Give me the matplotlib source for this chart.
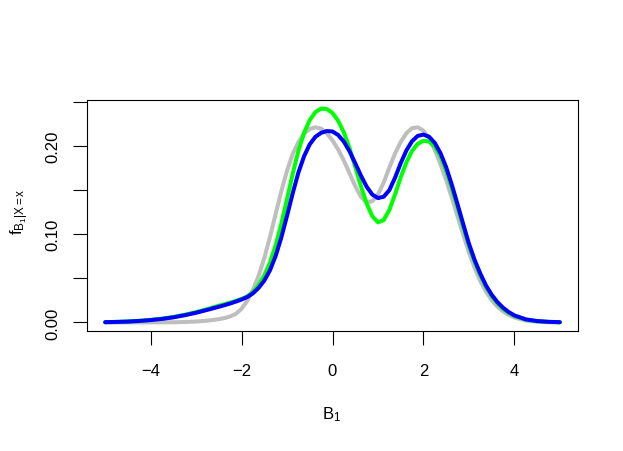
import numpy as np
import matplotlib
matplotlib.use('Agg')
import matplotlib.pyplot as plt

plt.rcParams['font.family'] = ['Liberation Sans', 'DejaVu Sans']
plt.rcParams['mathtext.fontset'] = 'custom'
plt.rcParams['mathtext.rm'] = 'Liberation Sans'
plt.rcParams['mathtext.it'] = 'Liberation Sans'
plt.rcParams['mathtext.bf'] = 'Liberation Sans:bold'

# Values (finer steps where the curves bend).
b1 = [-5.0, -4.75, -4.5, -4.25, -4.0, -3.75, -3.5, -3.25, -3.0, -2.75, -2.5,
      -2.375, -2.25, -2.125, -2.0, -1.875, -1.75, -1.625, -1.5, -1.375, -1.25,
      -1.125, -1.0, -0.875, -0.75, -0.625, -0.5, -0.375, -0.25, -0.125, 0.0,
      0.125, 0.25, 0.375, 0.5, 0.625, 0.75, 0.875, 1.0, 1.125, 1.25,
      1.375, 1.5, 1.625, 1.75, 1.875, 2.0, 2.125, 2.25, 2.375, 2.5,
      2.625, 2.75, 2.875, 3.0, 3.125, 3.25, 3.375, 3.5, 3.625, 3.75,
      3.875, 4.0, 4.25, 4.5, 4.75, 5.0]

# grey: reference density
dens_true = [0.0, 0.0, 0.0, 0.0, 0.0001, 0.0001, 0.0002, 0.0005, 0.001, 0.002, 0.0037,
             0.005, 0.0068, 0.0098, 0.0155, 0.0245, 0.037, 0.053, 0.073, 0.097, 0.123,
             0.149, 0.172, 0.191, 0.2045, 0.214, 0.2195, 0.2212, 0.2198, 0.2145, 0.2065,
             0.196, 0.1835, 0.169, 0.1545, 0.1425, 0.136, 0.1375, 0.145, 0.1585, 0.1755,
             0.1915, 0.2045, 0.2145, 0.2203, 0.2212, 0.2175, 0.2085, 0.1955, 0.1795, 0.1615,
             0.1415, 0.1205, 0.0995, 0.0795, 0.062, 0.047, 0.035, 0.0255, 0.018, 0.0125,
             0.0085, 0.0056, 0.0022, 0.0008, 0.0003, 0.0001]

# green estimate
dens_green = [0.0003, 0.0006, 0.0011, 0.0018, 0.0029, 0.0043, 0.0062, 0.0087, 0.0117, 0.0152, 0.019,
              0.0207, 0.0225, 0.0245, 0.0267, 0.0295, 0.0345, 0.0425, 0.0535, 0.068, 0.0875,
              0.112, 0.14, 0.1685, 0.1945, 0.215, 0.2295, 0.2385, 0.2425, 0.242, 0.2375,
              0.2285, 0.2155, 0.1975, 0.1765, 0.1545, 0.135, 0.1205, 0.1135, 0.116, 0.1275,
              0.145, 0.1645, 0.1815, 0.1945, 0.2025, 0.206, 0.205, 0.1995, 0.1885, 0.172,
              0.152, 0.1305, 0.1085, 0.087, 0.069, 0.0535, 0.0405, 0.03, 0.0218, 0.0155,
              0.0108, 0.0074, 0.0032, 0.0014, 0.0006, 0.0002]

# blue estimate
dens_blue = [0.0003, 0.0006, 0.0010, 0.0017, 0.0027, 0.0040, 0.0058, 0.0082, 0.0110, 0.0143, 0.0178,
             0.0196, 0.0215, 0.0237, 0.026, 0.0288, 0.033, 0.0392, 0.0475, 0.0592, 0.0755,
             0.0965, 0.121, 0.1465, 0.17, 0.1885, 0.202, 0.2105, 0.215, 0.217, 0.2165,
             0.2125, 0.205, 0.194, 0.1805, 0.1665, 0.154, 0.145, 0.141, 0.1425, 0.15,
             0.164, 0.1805, 0.195, 0.2055, 0.2115, 0.213, 0.2105, 0.2035, 0.192, 0.176,
             0.156, 0.134, 0.1115, 0.0895, 0.071, 0.0555, 0.042, 0.0315, 0.0232, 0.0168,
             0.0118, 0.008, 0.0035, 0.0016, 0.0007, 0.0003]

xticks = [-4, -2, 0, 2, 4]
yticks = [0.0, 0.05, 0.10, 0.15, 0.20, 0.25]
ylabels = ['0.00', '', '0.10', '', '0.20', '']

W, H = 623, 452
f = plt.figure(figsize=[W/100., H/100.], dpi=100)
ax = f.add_axes([87./W, (H-332.)/H, 491./W, 231./H])

for d, c in zip([dens_true, dens_green, dens_blue], ['#BEBEBE', '#00FF00', '#0000FF']):
    ax.plot(b1, d, color=c, lw=2.9, solid_capstyle='round', solid_joinstyle='round')

# R style axis ranges (4% padding)
allv = np.concatenate([dens_true, dens_green, dens_blue])
yr = allv.max() - allv.min()
ax.set_ylim(allv.min() - 0.04*yr, allv.max() + 0.04*yr)
ax.set_xlim(-5.4, 5.4)

ax.set_xticks(xticks)
ax.set_xticklabels([str(v).replace('-', '\u2212') for v in xticks])
ax.set_yticks(yticks)
ax.set_yticklabels(ylabels, rotation=90, va='center')
ax.tick_params(length=10, width=0.8, labelsize=12, direction='out')
ax.tick_params(axis='x', pad=13)
ax.tick_params(axis='y', pad=9)
for s in ax.spines.values():
    s.set_linewidth(0.8)

f.text(332./W, (H-419.)/H, r'$\mathrm{B_1}$', ha='center', va='baseline', size=12)
f.text(23./W, (H-212.)/H, r'$\mathrm{f_{B_1|X=x}}$', rotation=90, rotation_mode='anchor',
       ha='center', va='baseline', size=12)

f.savefig('out.png', dpi=100)
